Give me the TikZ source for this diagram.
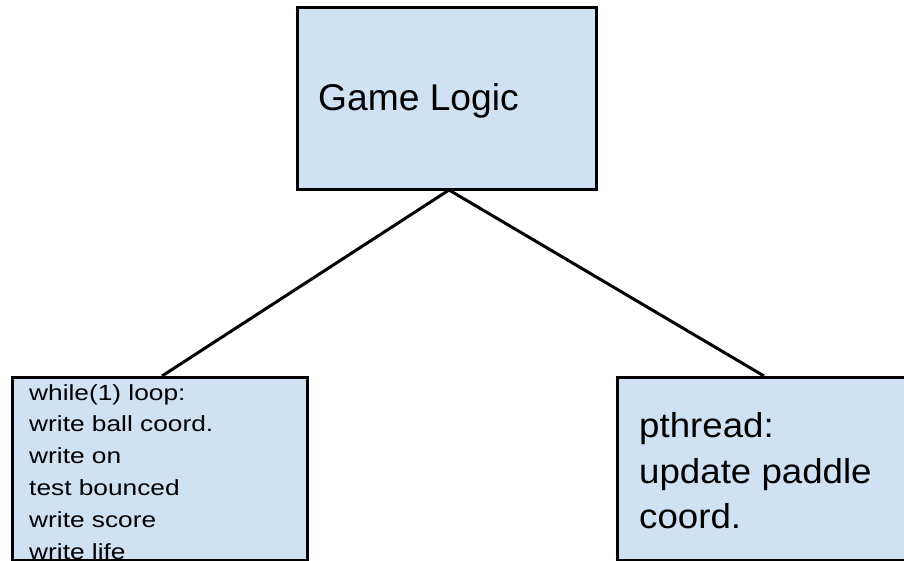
\documentclass[tikz,border=0pt]{standalone}
\usepackage{fontspec}
\setmainfont{Liberation Sans}
\newfontfamily\loopfont[FakeStretch=1.2]{Liberation Sans}
\newfontfamily\threadfont[FakeStretch=1.06]{Liberation Sans}
\definecolor{boxfill}{HTML}{CFE2F3}
\tikzset{
  blockbox/.style={draw=black, line width=3pt, fill=boxfill},
  link/.style={draw=black, line width=3pt},
}
\begin{document}
\begin{tikzpicture}[x=1pt, y=-1pt]
  \useasboundingbox (0,0) rectangle (904,560);
  \clip (0,0) rectangle (904,560);
  \fill[white] (0,0) rectangle (904,560);

  % blocks
  \path[blockbox] (297,7) rectangle (596,189);
  \path[blockbox] (12,377) rectangle (307,560.5);
  \path[blockbox] (617,377) rectangle (912,560.5);

  \coordinate (apex) at (449,190);
  \coordinate (lefttop) at (162,376);
  \coordinate (righttop) at (764,376);
  \draw[link] (apex) -- (lefttop);
  \draw[link] (apex) -- (righttop);

  % labels (multi-line nodes are placed by the baseline of their last line)
  \node[anchor=base west, inner sep=0pt, font=\fontsize{37.2}{43}\selectfont] (logic) at (318,110) {Game Logic};

  \node[anchor=base west, inner sep=0pt, align=left,
        font=\loopfont\fontsize{21.9}{31.8}\selectfont] (loop) at (29,559)
    {while(1) loop:\\write ball coord.\\write on\\test bounced\\write score\\write life};

  \node[anchor=base west, inner sep=0pt, align=left,
        font=\threadfont\fontsize{34.6}{45.5}\selectfont] (thread) at (639,528.5)
    {pthread:\\update paddle\\coord.};
\end{tikzpicture}
\end{document}
